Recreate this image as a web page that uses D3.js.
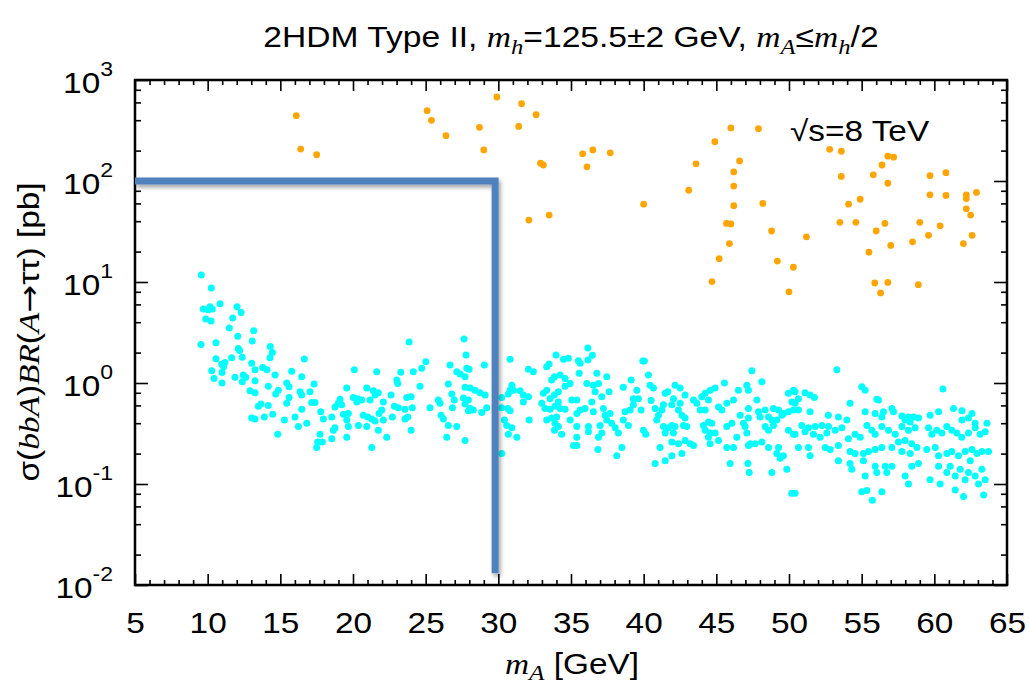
<!DOCTYPE html>
<html><head><meta charset="utf-8">
<script src="https://cdn.jsdelivr.net/npm/d3@7"></script>
<style>body{margin:0;background:#fff}svg{display:block}</style>
</head><body>
<svg id="c" width="1029" height="688"></svg>
<script>
// ---- data ----
const xTicks = [5,10,15,20,25,30,35,40,45,50,55,60,65];
const yTickExp = [-2,-1,0,1,2,3];
const yMinorMult = [2,4,6,8];
// orange: [m_A (GeV), sigma*BR (pb)]
const orange = [[16.1,443],[16.4,207],[17.5,182],[25.1,497],[25.4,399],[26.4,281],[28.7,340],[29.0,203],[29.9,679],[31.6,582],[32.6,453],[31.4,347],[32.9,150],[33.1,144],[32.1,41],[33.5,46],[35.8,186],[36.5,203],[36.1,138],[37.7,190],[40.0,59],[43.1,81],[43.6,148],[44.9,245],[46.0,335],[47.9,330],[46.6,158],[46.2,123],[46.2,89],[46.2,57],[45.7,38],[46.0,37.5],[45.9,24],[45.2,17],[44.7,10.1],[48.2,60],[48.8,32],[49.2,16.1],[50.3,14],[50.0,8.0],[51.2,28],[52.8,206],[53.6,197],[53.6,111],[54.1,59],[54.9,66],[53.5,39],[54.6,39],[55.8,115],[56.4,144],[56.8,176],[57.2,172],[56.8,95],[56.0,32],[56.6,38],[55.5,19.7],[57.0,23],[55.9,9.8],[56.3,7.8],[56.8,9.9],[58.5,25],[59.0,39],[58.9,9.4],[59.6,29],[60.4,36],[59.7,113],[60.8,121],[59.7,73],[60.8,72],[62.2,73],[62.2,67],[62.9,77],[62.2,53],[62.5,46],[62.6,29],[62.0,24]];
// cyan: [m_A (GeV), sigma*BR (pb)]
const cyan = [[9.56,11.7],[10.25,8.7],[9.70,5.4],[10.16,5.7],[10.32,5.4],[10.04,5.3],[10.85,6.1],[9.87,4.3],[10.23,4.1],[9.54,2.4],[10.57,2.5],[12.02,5.7],[12.3,5.0],[11.72,4.4],[11.49,3.5],[12.07,2.9],[13.17,3.3],[13.07,2.6],[12.11,2.2],[12.2,2.1],[14.31,2.3],[14.45,2.0],[14.29,1.78],[10.57,1.74],[11.65,1.78],[12.38,1.80],[10.97,1.53],[11.19,1.60],[11.1,1.45],[10.28,1.32],[10.99,1.27],[10.44,1.11],[10.99,1.0],[13.03,1.57],[13.26,1.35],[13.79,1.42],[14.08,1.35],[14.64,1.2],[11.88,1.14],[12.45,1.2],[12.62,1.14],[12.38,1.03],[13.26,1.05],[16.65,1.73],[15.78,1.31],[16.47,1.15],[15.44,1.0],[15.6,0.92],[14.17,0.93],[14.86,0.85],[14.68,0.78],[12.91,0.84],[13.26,0.80],[16.36,0.82],[16.47,0.76],[17.32,0.98],[17.04,0.82],[19.57,0.89],[13.49,0.59],[13.67,0.62],[14.17,0.60],[13.03,0.45],[13.26,0.44],[13.9,0.46],[14.48,0.49],[15.44,0.63],[15.6,0.72],[15.28,0.43],[16.01,0.46],[16.24,0.37],[16.47,0.55],[16.82,0.40],[17.16,0.64],[17.39,0.64],[14.82,0.31],[17.78,0.52],[17.96,0.44],[17.73,0.31],[17.57,0.26],[17.89,0.26],[17.5,0.23],[18.54,0.28],[18.65,0.34],[18.76,0.36],[18.54,0.46],[18.76,0.58],[18.99,0.63],[19.22,0.61],[19.11,0.69],[19.34,0.49],[19.68,0.50],[19.57,0.43],[19.68,0.37],[19.57,0.29],[20.02,0.72],[20.09,1.35],
[23.86,2.55],[27.64,2.73],[27.78,1.89],[21.63,1.29],[23.29,1.28],[24.15,1.29],[24.73,1.40],[25.01,1.62],[26.68,1.51],[27.14,1.29],[27.37,1.23],[27.83,1.40],[27.99,1.37],[29.04,1.51],[23.01,1.07],[23.08,0.99],[24.61,0.93],[20.95,0.89],[21.4,0.84],[21.74,0.80],[20.33,0.70],[20.6,0.68],[20.26,0.65],[21.17,0.68],[21.52,0.76],[22.62,0.76],[22.09,0.65],[23.7,0.72],[24.0,0.73],[22.85,0.59],[23.12,0.57],[23.58,0.55],[24.08,0.57],[21.98,0.54],[21.79,0.50],[20.71,0.48],[21.01,0.46],[21.29,0.44],[21.52,0.42],[22.09,0.43],[22.71,0.46],[23.58,0.44],[23.77,0.46],[20.37,0.38],[20.95,0.37],[21.74,0.34],[22.32,0.29],[24.0,0.34],[21.29,0.23],[25.3,0.57],[25.87,0.68],[25.99,0.63],[26.56,0.98],[26.8,0.78],[26.97,0.68],[26.84,0.57],[26.06,0.48],[26.22,0.44],[26.56,0.38],[27.14,0.37],[26.45,0.29],[27.71,0.27],[27.71,1.15],[27.71,0.91],[28.06,0.89],[28.4,0.85],[28.74,0.80],[29.09,0.76],[27.6,0.71],[27.94,0.68],[27.71,0.62],[28.06,0.56],[28.28,0.54],[27.94,0.53],[28.86,0.51],[29.2,0.57],[30.81,1.72],[32.07,1.37],[32.41,1.29],[33.33,1.45],[33.49,1.54],[33.97,1.89],[34.48,1.72],[34.82,1.76],[33.67,1.07],[33.86,1.15],[34.25,1.2],[34.59,1.11],[30.93,0.95],[30.81,0.85],[30.69,0.78],[31.04,0.85],[31.5,0.84],[31.72,0.76],[32.07,0.73],[31.72,0.65],[30.23,0.72],[30.23,0.57],[30.65,0.56],[30.81,0.53],[30.42,0.43],[30.58,0.38],[30.93,0.36],[30.69,0.31],[31.27,0.29],[30.23,0.20],[32.12,0.43],[33.1,0.79],[33.33,0.85],[33.56,0.70],[33.86,0.76],[34.13,0.82],[32.99,0.63],[33.21,0.56],[33.56,0.55],[33.9,0.59],[34.13,0.65],[34.25,0.56],[34.59,0.55],[33.33,0.43],[33.67,0.45],[34.02,0.46],[33.9,0.40],[34.13,0.37],[33.86,0.34],[34.36,0.31],[34.59,0.93],[34.94,0.99],[35.05,0.68],[34.94,0.43],[35.17,0.24],
[36.16,2.22],[36.47,1.88],[35.51,1.66],[35.63,1.57],[36.16,1.69],[35.56,1.25],[36.78,1.25],[37.46,1.15],[36.09,0.99],[36.54,0.95],[36.89,0.99],[36.66,0.82],[37.12,0.73],[37.62,0.82],[36.43,0.65],[35.97,0.56],[35.63,0.54],[35.4,0.68],[35.4,0.50],[36.54,0.52],[37.23,0.56],[37.35,0.48],[37.69,0.50],[37.46,0.43],[37.0,0.38],[37.8,0.40],[35.4,0.37],[35.4,0.29],[35.4,0.24],[36.2,0.37],[36.2,0.33],[37.12,0.32],[36.89,0.29],[36.85,0.22],[38.15,0.19],[38.5,0.23],[38.04,0.36],[38.26,0.32],[38.6,0.43],[38.95,0.38],[38.72,0.52],[39.07,0.54],[39.29,0.61],[38.6,0.91],[39.14,1.07],[39.53,0.85],[39.64,0.70],[39.29,0.70],[39.94,1.65],[40.05,1.65],[40.33,1.2],[40.44,0.95],[40.67,0.89],[39.82,0.54],[40.51,0.67],[39.98,0.34],[40.15,0.31],[40.79,0.56],[41.02,0.48],[41.25,0.54],[40.9,0.43],[41.36,0.61],[41.48,0.79],[41.66,0.82],[42.16,0.95],[42.51,0.89],[42.05,0.70],[41.94,0.61],[41.36,0.37],[41.71,0.36],[41.94,0.38],[41.48,0.32],[42.05,0.32],[42.16,0.37],[41.13,0.23],[40.79,0.16],[41.48,0.17],[41.94,0.19],[42.63,0.20],[41.94,0.26],[42.39,0.25],[42.85,0.27],[43.2,0.25],[43.43,0.24],[42.39,0.54],[42.63,0.48],[42.85,0.45],[42.74,0.38],[42.97,0.37],[42.51,0.63],[42.85,0.76],[43.43,0.68],[43.66,0.63],[44.0,0.73],[44.23,0.79],[44.46,0.68],[44.57,0.85],[44.92,0.89],[43.89,0.54],[44.23,0.54],[44.11,0.38],[44.46,0.41],[44.69,0.40],[44.23,0.34],[44.57,0.32],[44.46,0.29],[44.92,0.32],[45.15,0.27],[44.57,0.25],[45.15,0.58],[45.38,0.54],[45.72,0.63],[46.18,0.68],[45.56,1.0],[46.52,0.85],[47.1,0.95],[47.21,0.85],[47.44,1.32],[48.13,1.03],[45.72,0.37],[46.07,0.40],[46.41,0.29],[45.72,0.23],[46.18,0.23],[45.95,0.16],[46.64,0.48],[46.87,0.40],[47.21,0.45],[47.21,0.56],[47.79,0.68],[47.9,0.52],[48.01,0.46],[46.98,0.37],[47.1,0.32],[47.33,0.25],[47.67,0.25],[47.21,0.24],[47.17,0.16],[47.26,0.13],[48.82,0.13],[49.85,0.14],[50.19,0.081],[48.36,0.54],[48.59,0.46],[48.82,0.43],[48.36,0.37],[48.59,0.34],[48.93,0.38],[49.16,0.43],[49.51,0.48],[48.93,0.56],[49.28,0.54],[49.62,0.50],[49.96,0.52],[50.31,0.54],[50.2,0.65],[49.96,0.79],[48.13,0.26],[48.59,0.23],[49.16,0.20],[49.39,0.18],[49.28,0.23],[49.62,0.19],[49.96,0.34],[50.31,0.31],[50.31,0.85],
[53.29,1.35],[55.01,0.92],[55.24,0.85],[60.59,0.87],[50.42,0.82],[51.1,0.80],[51.45,0.76],[51.75,0.72],[54.2,0.63],[56.04,0.69],[56.16,0.68],[50.65,0.54],[51.45,0.52],[52.71,0.48],[53.4,0.46],[53.98,0.43],[55.24,0.52],[55.93,0.50],[56.5,0.52],[57.08,0.56],[57.19,0.52],[56.39,0.46],[57.77,0.47],[58.22,0.46],[58.57,0.46],[58.91,0.45],[57.99,0.43],[58.34,0.41],[59.71,0.48],[60.29,0.52],[61.32,0.56],[61.9,0.53],[62.59,0.50],[62.35,0.45],[50.88,0.38],[51.34,0.36],[51.8,0.37],[52.26,0.38],[52.72,0.37],[53.18,0.34],[53.64,0.36],[50.42,0.31],[51.1,0.33],[51.68,0.31],[52.14,0.29],[52.6,0.32],[54.09,0.28],[54.55,0.31],[54.9,0.29],[55.36,0.38],[55.7,0.34],[55.93,0.31],[56.39,0.37],[56.85,0.34],[57.31,0.31],[57.77,0.37],[58.22,0.34],[58.68,0.36],[57.53,0.26],[57.99,0.27],[58.45,0.25],[58.8,0.23],[59.6,0.36],[59.83,0.31],[60.17,0.34],[60.52,0.32],[60.86,0.37],[61.2,0.34],[61.55,0.32],[61.89,0.29],[62.35,0.32],[62.81,0.36],[63.15,0.31],[63.5,0.33],[50.65,0.23],[51.34,0.23],[51.45,0.19],[52.49,0.23],[52.83,0.22],[53.4,0.24],[54.2,0.21],[54.55,0.20],[55.12,0.20],[55.47,0.21],[55.93,0.22],[56.39,0.23],[57.08,0.23],[57.77,0.21],[58.34,0.20],[59.48,0.22],[60.06,0.23],[60.29,0.19],[60.86,0.20],[61.2,0.21],[61.66,0.19],[62.12,0.21],[62.59,0.22],[62.93,0.20],[63.27,0.21],[63.73,0.21],[53.4,0.17],[54.2,0.16],[54.32,0.14],[55.12,0.17],[55.24,0.12],[55.93,0.15],[56.04,0.13],[56.62,0.15],[57.08,0.15],[56.73,0.13],[57.99,0.12],[58.45,0.15],[58.22,0.10],[58.91,0.16],[59.71,0.11],[60.29,0.15],[60.4,0.10],[60.86,0.13],[61.09,0.15],[61.44,0.12],[61.78,0.14],[62.12,0.11],[62.35,0.13],[62.47,0.17],[62.81,0.12],[63.04,0.10],[63.27,0.14],[63.5,0.11],[55.01,0.084],[55.36,0.086],[55.74,0.069],[56.39,0.084],[61.44,0.087],[62.01,0.075],[63.39,0.078],[50.42,0.081],[61.9,0.43],[62.81,0.40],[63.62,0.40],[50.42,0.63],[50.65,0.70]];
// blue exclusion boundary [m_A, sigma]
const boundary = [[5,100],[29.78,100],[29.78,0.0131]];

// ---- drawing ----
const W = 1029, H = 688, L = 135, R = 1007, T = 80, B = 585;
const SX = 1.15; // horizontal stretch of the text, as in the reference
const sans = '"Liberation Sans", Arial, Helvetica, sans-serif';
const serif = '"Liberation Serif", "Times New Roman", serif';
const svg = d3.select('#c');
svg.append('rect').attr('width', W).attr('height', H).attr('fill', '#fff');

const x = d3.scaleLinear().domain([5, 65]).range([L, R]);
const y = d3.scaleLog().domain([0.01, 1000]).range([B, T]);

const defs = svg.append('defs');
defs.append('clipPath').attr('id', 'clip').append('rect').attr('x', L).attr('y', T).attr('width', R - L).attr('height', B - T);
const f = defs.append('filter').attr('id', 'shadow').attr('x', '-10%').attr('y', '-10%').attr('width', '130%').attr('height', '130%');
f.append('feDropShadow').attr('dx', 2).attr('dy', 3).attr('stdDeviation', 2).attr('flood-color', '#000').attr('flood-opacity', 0.35);

const pts = svg.append('g').attr('clip-path', 'url(#clip)');
pts.selectAll('circle.c').data(cyan).join('circle').attr('class', 'c')
  .attr('cx', d => x(d[0])).attr('cy', d => y(d[1])).attr('r', 3.5).attr('fill', '#00ffff');
pts.selectAll('circle.o').data(orange).join('circle').attr('class', 'o')
  .attr('cx', d => x(d[0])).attr('cy', d => y(d[1])).attr('r', 3.4).attr('fill', '#ffa500');

function styleAxis(g) {
  g.select('.domain').remove();
  g.selectAll('line').attr('stroke', '#000').attr('stroke-width', 1.6);
}
const xMinor = d3.range(5, 66).filter(v => v % 5 !== 0);
const yMajor = yTickExp.map(e => Math.pow(10, e));
const yMinor = [];
yTickExp.slice(0, -1).forEach(e => yMinorMult.forEach(m => yMinor.push(m * Math.pow(10, e))));

// bottom
svg.append('g').attr('transform', `translate(0,${B})`)
  .call(d3.axisBottom(x).tickValues(xTicks).tickSize(-11).tickPadding(27).tickFormat(d3.format('d')))
  .call(g => { styleAxis(g); g.selectAll('text').attr('font-size', 29).attr('font-family', sans)
    .attr('fill', '#000').attr('transform', `scale(${SX},1)`); });
svg.append('g').attr('transform', `translate(0,${B})`)
  .call(d3.axisBottom(x).tickValues(xMinor).tickSize(-5).tickFormat('')).call(styleAxis);
// top
svg.append('g').attr('transform', `translate(0,${T})`)
  .call(d3.axisTop(x).tickValues(xTicks).tickSize(-11).tickFormat('')).call(styleAxis);
svg.append('g').attr('transform', `translate(0,${T})`)
  .call(d3.axisTop(x).tickValues(xMinor).tickSize(-5).tickFormat('')).call(styleAxis);
// left
svg.append('g').attr('transform', `translate(${L},0)`)
  .call(d3.axisLeft(y).tickValues(yMajor).tickSize(-13).tickFormat('')).call(styleAxis);
svg.append('g').attr('transform', `translate(${L},0)`)
  .call(d3.axisLeft(y).tickValues(yMinor).tickSize(-6).tickFormat('')).call(styleAxis);
// right
svg.append('g').attr('transform', `translate(${R},0)`)
  .call(d3.axisRight(y).tickValues(yMajor).tickSize(-13).tickFormat('')).call(styleAxis);
svg.append('g').attr('transform', `translate(${R},0)`)
  .call(d3.axisRight(y).tickValues(yMinor).tickSize(-6).tickFormat('')).call(styleAxis);

// y tick labels with superscripts
yTickExp.forEach(e => {
  const t = svg.append('text').attr('transform', `translate(113,${y(Math.pow(10, e)) + 13}) scale(${SX},1)`)
    .attr('text-anchor', 'end').attr('font-family', sans).attr('font-size', 29).attr('fill', '#000');
  t.append('tspan').text('10');
  t.append('tspan').attr('dy', -17).attr('font-size', 20).text(String(e));
});

// frame
svg.append('rect').attr('x', L).attr('y', T).attr('width', R - L).attr('height', B - T)
  .attr('fill', 'none').attr('stroke', '#000').attr('stroke-width', 2.5);

// blue boundary
const line = d3.line().x(d => x(d[0])).y(d => y(d[1]));
svg.append('path').datum(boundary).attr('d', line).attr('fill', 'none')
  .attr('stroke', '#4f81bd').attr('stroke-width', 7).attr('stroke-linejoin', 'miter')
  .attr('filter', 'url(#shadow)');

// helper for math italic + subscript
function mathSub(t, base, sub, subSize, dy) {
  t.append('tspan').attr('font-family', serif).attr('font-style', 'italic').text(base);
  t.append('tspan').attr('font-family', serif).attr('font-style', 'italic').attr('font-size', subSize).attr('dy', dy).text(sub);
}

// title
const title = svg.append('text').attr('transform', `translate(571,47) scale(1.12,1)`).attr('text-anchor', 'middle')
  .attr('font-family', sans).attr('font-size', 30).attr('fill', '#000');
title.append('tspan').text('2HDM Type II, ');
mathSub(title, 'm', 'h', 22, 7);
title.append('tspan').attr('dy', -7).text('=125.5±2 GeV, ');
mathSub(title, 'm', 'A', 22, 7);
title.append('tspan').attr('dy', -7).text('≤');
mathSub(title, 'm', 'h', 22, 7);
title.append('tspan').attr('dy', -7).text('/2');

// x label
const xl = svg.append('text').attr('transform', `translate(572,674) scale(${SX},1)`).attr('text-anchor', 'middle')
  .attr('font-family', sans).attr('font-size', 29).attr('fill', '#000');
mathSub(xl, 'm', 'A', 22, 6);
xl.append('tspan').attr('dy', -6).text(' [GeV]');

// y label
const yl = svg.append('text').attr('transform', `translate(39,332) rotate(-90) scale(${SX},1)`).attr('text-anchor', 'middle')
  .attr('font-family', sans).attr('font-size', 29).attr('fill', '#000');
yl.append('tspan').text('σ(');
yl.append('tspan').attr('font-family', serif).attr('font-style', 'italic').text('bbA');
yl.append('tspan').text(')');
yl.append('tspan').attr('font-family', serif).attr('font-style', 'italic').text('BR');
yl.append('tspan').text('(');
yl.append('tspan').attr('font-family', serif).attr('font-style', 'italic').text('A');
yl.append('tspan').attr('font-family', '"DejaVu Sans", sans-serif').text('→');
yl.append('tspan').text('ττ) [pb]');

// annotation
svg.append('text').attr('transform', `translate(790,141) scale(${SX},1)`).attr('font-family', sans).attr('font-size', 29)
  .attr('fill', '#000').text('√s=8 TeV');
</script>
</body></html>
